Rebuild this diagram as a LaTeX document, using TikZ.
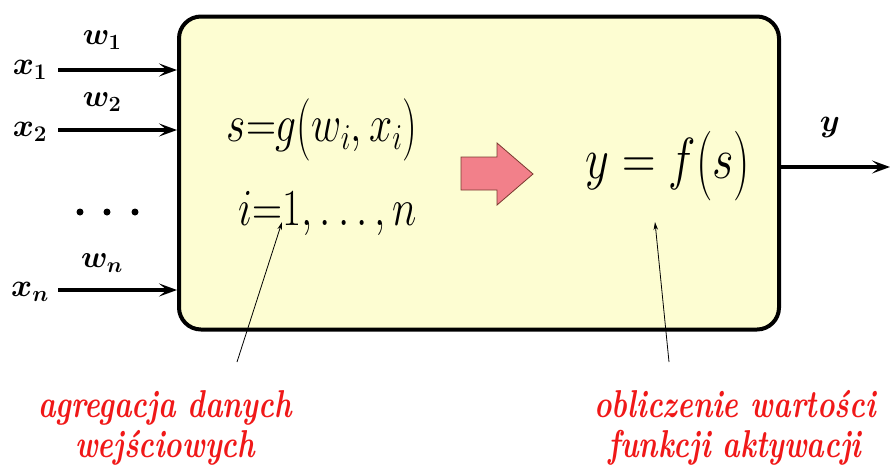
\documentclass[tikz,border=0pt]{standalone}
\usepackage{fix-cm}
\usepackage{fontspec}
\usetikzlibrary{arrows.meta}
\definecolor{boxfill}{HTML}{FDFDD2}
\definecolor{arrfill}{HTML}{F2808A}
\definecolor{arrdraw}{HTML}{7A3A30}
\definecolor{lblred}{HTML}{F01818}
\tikzset{
  inarrow/.style={line width=4.5pt,-{Stealth[length=18pt,width=13pt,inset=8pt]}},
  ptr/.style={line width=0.8pt,-{Stealth[length=8pt,width=4.5pt]}},
  xlab/.style={font=\fontsize{32}{34}\selectfont\boldmath,inner sep=0pt},
  wlab/.style={font=\fontsize{31}{33}\selectfont\boldmath,inner sep=0pt},
  redlab/.style={font=\fontsize{37}{40}\selectfont\bfseries\itshape,text=lblred,align=center,inner sep=0pt},
  formula/.style={font=\fontsize{52}{56}\selectfont,inner sep=0pt},
}
\newcommand{\bigpar}[1]{\raisebox{-0.08em}{\scalebox{1}[1.2]{$#1$}}}
\newcommand{\cond}[1]{\scalebox{0.8}[1]{#1}}
\newcommand{\condr}[1]{\scalebox{0.8}[1.05]{#1}}
\begin{document}
\begin{tikzpicture}[x=1pt,y=-1pt]
\useasboundingbox (0,0) rectangle (890,467);
% main box
\node[draw,line width=4pt,fill=boxfill,rounded corners=22pt,minimum width=600pt,minimum height=313pt,inner sep=0pt] (box) at (479,173) {};
% inputs
\coordinate (x1s) at (58,70);
\coordinate (x2s) at (58,130);
\coordinate (xns) at (58,290);
\draw[inarrow] (x1s) -- (box.west |- x1s) coordinate (x1e);
\draw[inarrow] (x2s) -- (box.west |- x2s) coordinate (x2e);
\draw[inarrow] (xns) -- (box.west |- xns) coordinate (xne);
\node[xlab] (x1) at (30,70) {$x_1$};
\node[xlab] (x2) at (30,132) {$x_2$};
\node[xlab] (xn) at (30,292) {$x_n$};
\node[wlab] (w1) at (102,40) {$w_1$};
\node[wlab] (w2) at (102,102) {$w_2$};
\node[wlab] (wn) at (102,263) {$w_n$};
\fill (80,212) circle (3.5pt) coordinate (d1);
\fill (107,212) circle (3.5pt) coordinate (d2);
\fill (135,212) circle (3.5pt) coordinate (d3);
% output
\coordinate (ye) at (890,167);
\draw[inarrow] (box.east |- ye) -- (ye);
\node[xlab] (ylab) at (830,127) {$y$};
% formulas
\node[formula] (sg) at (322,130) {\cond{$s{=}g\bigpar{(}w_i,x_i\bigpar{)}$}};
\node[formula] (in) at (328,214) {\cond{$i{=}1,\ldots,n$}};
\node[formula,font=\fontsize{58}{62}\selectfont] (yf) at (668,166) {\cond{$y=f\bigpar{(}s\bigpar{)}$}};
% fat arrow
\coordinate (fat) at (497,174);
\filldraw[draw=arrdraw,fill=arrfill,line width=0.8pt]
  (461,157) -- (497,157) -- (497,143) -- (533,174) -- (497,205) -- (497,190) -- (461,190) -- cycle;
% labels
\node[redlab] (lab1) at (165,428) {\condr{agregacja danych}\\\condr{wejściowych}};
\node[redlab] (lab2) at (735,428) {\condr{obliczenie wartości}\\\condr{funkcji aktywacji}};
\coordinate (p1) at (282,222);
\coordinate (p2) at (655,222);
\draw[ptr] (237,362) -- (p1);
\draw[ptr] (669,362) -- (p2);
\end{tikzpicture}
\end{document}
